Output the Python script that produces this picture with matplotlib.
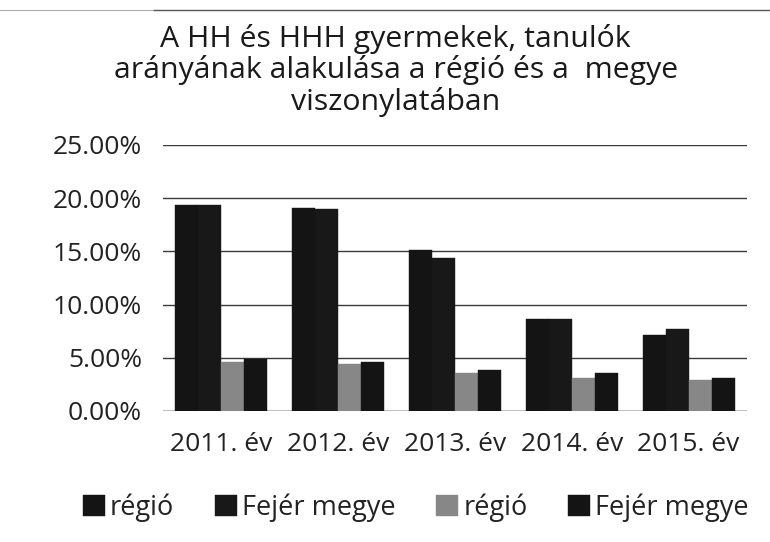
import numpy as np
import matplotlib.pyplot as plt
from matplotlib.ticker import FuncFormatter

plt.rcParams['font.family'] = ['Open Sans', 'DejaVu Sans']

# data (percent)
years = ['2011. év', '2012. év', '2013. év', '2014. év', '2015. év']
regio_1 = [19.4, 19.1, 15.1, 8.6, 7.1]
fejer_1 = [19.4, 19.0, 14.4, 8.6, 7.7]
regio_2 = [4.6, 4.4, 3.55, 3.1, 2.9]
fejer_2 = [4.85, 4.6, 3.9, 3.55, 3.1]
labels = ['régió', 'Fejér megye', 'régió', 'Fejér megye']
colors = ['#141414', '#181818', '#878787', '#141414']

fig = plt.figure(figsize=(7.7, 5.42), dpi=100)
ax = fig.add_axes([0.2117, 0.2417, 0.7584, 0.4908])

x = np.arange(len(years))
w = 0.197
series = [regio_1, fejer_1, regio_2, fejer_2]
for i, (vals, lab, c) in enumerate(zip(series, labels, colors)):
    ax.bar(x + (i - 1.5) * w, vals, w, color=c, label=lab, zorder=3,
           edgecolor=c, linewidth=0.3)

ax.set_ylim(0, 25)
ax.set_xlim(-0.5, 4.5)
ax.set_yticks(np.arange(0, 26, 5))
ax.yaxis.set_major_formatter(FuncFormatter(lambda v, p: '%.2f%%' % v))
ax.set_xticks(x)
ax.set_xticklabels(years)
ax.tick_params(axis='both', length=0, labelsize=19, colors='#222222')
ax.tick_params(axis='y', pad=15)
ax.tick_params(axis='x', pad=15)
ax.grid(axis='y', color='#3a3a3a', linewidth=1.0, zorder=0)
for s in ax.spines.values():
    s.set_visible(False)
ax.axhline(0, color='#555555', linewidth=1.0, zorder=2)

fig.text(0.514, 0.87, 'A HH és HHH gyermekek, tanulók\narányának alakulása a régió és a  megye\nviszonylatában',
         ha='center', va='center', fontsize=21.8, color='#1a1a1a', linespacing=1.05)

ax.legend(loc='center', bbox_to_anchor=(416 / 770, 1 - 508 / 542), bbox_transform=fig.transFigure,
          ncol=4, frameon=False, fontsize=19.5, handlelength=0.8, handleheight=0.8,
          handletextpad=0.2, columnspacing=1.5, labelcolor='#222222')

# scan edge line at top
fig.add_artist(plt.Line2D([0.0, 0.2], [0.982, 0.982], color='#aaaaaa', linewidth=0.8))
fig.add_artist(plt.Line2D([0.2, 1.0], [0.982, 0.982], color='#555555', linewidth=1.0))

fig.savefig('out.png', dpi=100)
